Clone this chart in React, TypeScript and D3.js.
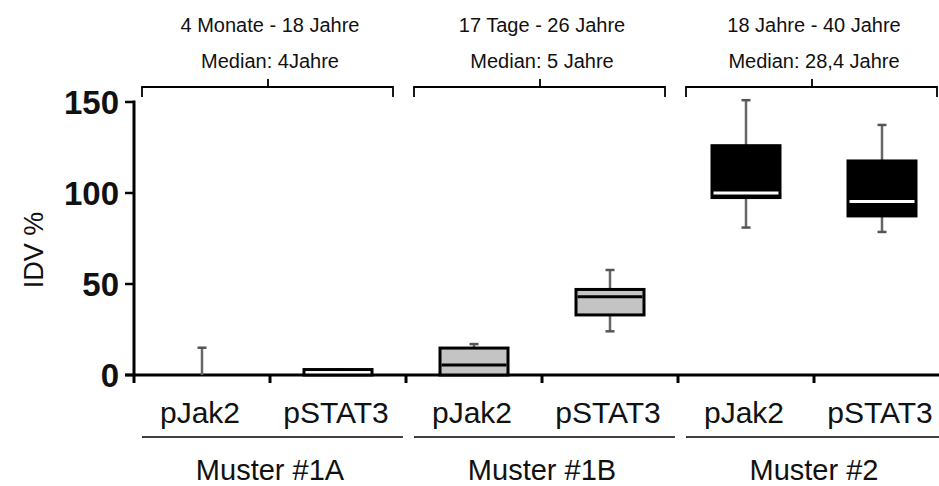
import React from "react";
import * as d3 from "d3";

const categories = ["1A-pJak2", "1A-pSTAT3", "1B-pJak2", "1B-pSTAT3", "2-pJak2", "2-pSTAT3"];
const categoryLabels = ["pJak2", "pSTAT3", "pJak2", "pSTAT3", "pJak2", "pSTAT3"];
const groupLabels = ["Muster #1A", "Muster #1B", "Muster #2"];
const groupRanges = ["4 Monate - 18 Jahre", "17 Tage - 26 Jahre", "18 Jahre - 40 Jahre"];
const groupMedians = ["Median: 4Jahre", "Median: 5 Jahre", "Median: 28,4 Jahre"];
const lows = [0, 0, 0, 24, 81, 78.6];
const q1s = [0, 0, 0, 33, 97.5, 87.4];
const medians = [0, 0, 5.5, 43, 100, 95.3];
const q3s = [0, 3, 14.8, 47, 126, 117.6];
const highs = [15, 3, 17, 57.7, 151, 137.4];
const boxFills = ["#ffffff", "#ffffff", "#c4c4c4", "#c4c4c4", "#000000", "#000000"];
const medianColors = ["#000", "#000", "#000", "#000", "#fff", "#fff"];
const yTicks = [0, 50, 100, 150];

const W = 939;
const H = 486;
const FONT = "'Liberation Sans', Arial, Helvetica, sans-serif";

export default function App() {
  const x = d3.scaleBand<string>().domain(categories).range([134, 950]).padding(0);
  const y = d3.scaleLinear().domain([0, 150]).range([375, 102]);
  const bw = x.bandwidth();
  const boxW = 68;
  const capW = 9;

  const groupCenter = (g: number) => (x(categories[g * 2])! + x(categories[g * 2 + 1])! + bw) / 2;

  return (
    <svg width={W} height={H} style={{ position: "absolute", left: 0, top: 0, background: "#fff" }} fontFamily={FONT}>
      {/* y axis */}
      <line x1={134} x2={134} y1={y(150) - 1.5} y2={y(0) + 8} stroke="#000" strokeWidth={3} />
      {yTicks.map((t) => (
        <g key={t}>
          <line x1={125} x2={134} y1={y(t)} y2={y(t)} stroke="#000" strokeWidth={2.5} />
          <text x={119} y={y(t)} dy="0.36em" textAnchor="end" fontSize={33} fontWeight="bold" fill="#111">
            {t}
          </text>
        </g>
      ))}
      <text
        transform={`translate(43,250) rotate(-90)`}
        textAnchor="middle"
        fontSize={27}
        fill="#111"
      >
        IDV %
      </text>

      {/* x axis */}
      <line x1={125} x2={W} y1={y(0)} y2={y(0)} stroke="#000" strokeWidth={3} />
      {categories.slice(1).map((c) => (
        <line key={c} x1={x(c)!} x2={x(c)!} y1={y(0)} y2={y(0) + 8} stroke="#000" strokeWidth={3} />
      ))}

      {/* boxes */}
      {categories.map((c, i) => {
        const cx = x(c)! + bw / 2;
        return (
          <g key={c}>
            <line x1={cx} x2={cx} y1={y(lows[i])} y2={y(highs[i])} stroke="#666" strokeWidth={2.5} />
            <line x1={cx - capW / 2} x2={cx + capW / 2} y1={y(highs[i])} y2={y(highs[i])} stroke="#555" strokeWidth={2.5} />
            {lows[i] > 0 && (
              <line x1={cx - capW / 2} x2={cx + capW / 2} y1={y(lows[i])} y2={y(lows[i])} stroke="#555" strokeWidth={2.5} />
            )}
            {q3s[i] > q1s[i] && (
              <>
                <rect
                  x={cx - boxW / 2}
                  y={y(q3s[i])}
                  width={boxW}
                  height={y(q1s[i]) - y(q3s[i])}
                  fill={boxFills[i]}
                  stroke="#000"
                  strokeWidth={3}
                />
                {medians[i] > q1s[i] && (
                  <line
                    x1={cx - boxW / 2 + 1.5}
                    x2={cx + boxW / 2 - 1.5}
                    y1={y(medians[i])}
                    y2={y(medians[i])}
                    stroke={medianColors[i]}
                    strokeWidth={3}
                  />
                )}
              </>
            )}
          </g>
        );
      })}

      {/* category labels */}
      {categories.map((c, i) => (
        <text key={c} x={x(c)! + bw / 2 - 2} y={423} textAnchor="middle" fontSize={30} fill="#111">
          {categoryLabels[i]}
        </text>
      ))}

      {/* group underlines and labels */}
      {groupLabels.map((g, gi) => {
        const gc = groupCenter(gi);
        const x0 = x(categories[gi * 2])! + 8;
        const x1 = Math.min(x(categories[gi * 2 + 1])! + bw - 3, W);
        return (
          <g key={g}>
            <line x1={x0} x2={x1} y1={437} y2={437} stroke="#000" strokeWidth={1.5} />
            <text x={gc} y={480} textAnchor="middle" fontSize={29} fill="#111">
              {g}
            </text>
          </g>
        );
      })}

      {/* top brackets */}
      {groupRanges.map((r, gi) => {
        const gc = groupCenter(gi);
        const x0 = x(categories[gi * 2])! + 8;
        const x1 = x(categories[gi * 2 + 1])! + bw - 13;
        return (
          <g key={r}>
            <path
              d={`M${x0},97 V87 H${x1} V97 M${gc - 2},87 V79`}
              fill="none"
              stroke="#000"
              strokeWidth={1.8}
            />
            <text x={gc} y={32} textAnchor="middle" fontSize={20} fill="#111">
              {r}
            </text>
            <text x={gc} y={68} textAnchor="middle" fontSize={20} fill="#111">
              {groupMedians[gi]}
            </text>
          </g>
        );
      })}
    </svg>
  );
}
